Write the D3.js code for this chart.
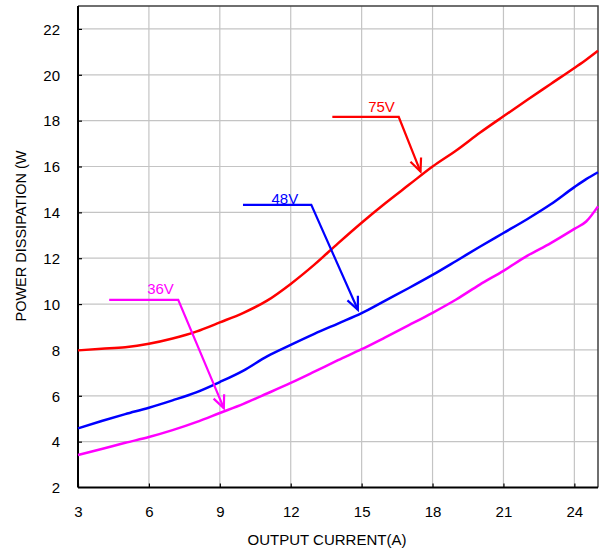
<!DOCTYPE html>
<html>
<head>
<meta charset="utf-8">
<script src="https://cdn.jsdelivr.net/npm/d3@7/dist/d3.min.js"></script>
<style>
  html, body { margin: 0; padding: 0; background: #fff; }
  svg { display: block; }
  text { font-family: "Liberation Sans", Arial, sans-serif; }
</style>
</head>
<body>
<svg id="chart" width="604" height="553"></svg>
<script>
// ---- data ----
const current = [3, 4, 5, 6, 7, 8, 9, 10, 11, 12, 13, 14, 15, 16, 17, 18, 19, 20, 21, 22, 23, 24, 24.5, 25];
const v75 = [7.98, 8.05, 8.12, 8.27, 8.5, 8.8, 9.2, 9.62, 10.15, 10.88, 11.72, 12.65, 13.55, 14.4, 15.2, 16.0, 16.7, 17.47, 18.19, 18.9, 19.6, 20.3, 20.66, 21.05];
const v48 = [4.58, 4.9, 5.2, 5.48, 5.8, 6.15, 6.6, 7.1, 7.72, 8.22, 8.7, 9.15, 9.6, 10.15, 10.7, 11.27, 11.88, 12.5, 13.1, 13.7, 14.35, 15.1, 15.45, 15.75];
const v36 = [3.42, 3.68, 3.95, 4.2, 4.5, 4.85, 5.25, 5.65, 6.1, 6.56, 7.05, 7.55, 8.03, 8.55, 9.08, 9.62, 10.2, 10.85, 11.45, 12.1, 12.66, 13.28, 13.6, 14.26];
const xTicks = [3, 6, 9, 12, 15, 18, 21, 24];
const yTicks = [2, 4, 6, 8, 10, 12, 14, 16, 18, 20, 22];
const seriesNames = ["75V", "48V", "36V"];
const seriesColors = ["#ff0000", "#0000ff", "#ff00ff"];
// annotation paths in data units: [start, corner, tip], label position
const annoPaths = [
  [[13.76, 18.16], [16.57, 18.16], [17.49, 15.78]],
  [[9.98, 14.33], [12.87, 14.33], [14.84, 9.75]],
  [[4.32, 10.18], [7.24, 10.18], [9.17, 5.46]]
];
const annoLabels = [[15.84, 18.36], [11.75, 14.35], [6.49, 10.45]];
const xTitle = "OUTPUT CURRENT(A)";
const yTitle = "POWER DISSIPATION (W";

// ---- layout ----
const L = 78, R = 598, T = 6, B = 487.5;
const svg = d3.select("#chart");
const x = d3.scaleLinear().domain([3, 25]).range([L, R]);
const y = d3.scaleLinear().domain([2, 23]).range([B, T]);

// gridlines
const grid = svg.append("g");
grid.selectAll("line.v").data(xTicks.slice(1)).join("line")
  .attr("x1", d => x(d)).attr("x2", d => x(d)).attr("y1", T).attr("y2", B)
  .attr("stroke", "#c4c4c4").attr("stroke-width", 1.2);
grid.selectAll("line.h").data(yTicks.slice(1)).join("line")
  .attr("x1", L).attr("x2", R).attr("y1", d => y(d)).attr("y2", d => y(d))
  .attr("stroke", "#c4c4c4").attr("stroke-width", 1.2);

// top/right border
svg.append("path")
  .attr("d", `M${L},${T}H${R}V${B}`)
  .attr("fill", "none").attr("stroke", "#404040").attr("stroke-width", 1.5);

// axes
const xAxis = d3.axisBottom(x).tickValues(xTicks).tickSize(-4).tickPadding(0).tickFormat(d3.format("d"));
const gx = svg.append("g").attr("transform", `translate(0,${B})`).call(xAxis);
gx.select(".domain").attr("stroke", "#000").attr("stroke-width", 2).attr("d", `M${L},0H${R}`);
gx.selectAll(".tick line").attr("stroke", "#000").attr("stroke-width", 1.2);
gx.selectAll(".tick text").attr("font-size", 15).attr("fill", "#000")
  .attr("y", 29).attr("dy", 0).attr("font-family", "Liberation Sans, Arial, sans-serif");

const yAxis = d3.axisLeft(y).tickValues(yTicks).tickSize(-4).tickPadding(0).tickFormat(d3.format("d"));
const gy = svg.append("g").attr("transform", `translate(${L},0)`).call(yAxis);
gy.select(".domain").attr("stroke", "#000").attr("stroke-width", 2).attr("d", `M0,${T}V${B}`);
gy.selectAll(".tick line").attr("stroke", "#000").attr("stroke-width", 1.2);
gy.selectAll(".tick text").attr("font-size", 15).attr("fill", "#000")
  .attr("x", -18).attr("dy", "0.35em").attr("font-family", "Liberation Sans, Arial, sans-serif");
gy.selectAll(".tick").filter(d => d === 2).select("line").remove();

// titles
svg.append("text").attr("x", 327).attr("y", 545).attr("text-anchor", "middle")
  .attr("font-size", 15).attr("fill", "#000").text(xTitle);
svg.append("text").attr("transform", "translate(26,236) rotate(-90)").attr("text-anchor", "middle")
  .attr("font-size", 14.5).attr("fill", "#000").text(yTitle);

// curves
const allSeries = [v75, v48, v36];
const line = d3.line().x(d => x(d[0])).y(d => y(d[1])).curve(d3.curveMonotoneX);
const curves = svg.append("g");
allSeries.forEach((s, i) => {
  curves.append("path")
    .attr("d", line(current.map((c, j) => [c, s[j]])))
    .attr("fill", "none").attr("stroke", seriesColors[i]).attr("stroke-width", 2.5)
    .attr("stroke-linejoin", "round");
});

// annotations
const ann = svg.append("g");
annoPaths.forEach((p, i) => {
  const pts = p.map(d => [x(d[0]), y(d[1])]);
  ann.append("path").attr("d", d3.line()(pts))
    .attr("fill", "none").attr("stroke", seriesColors[i]).attr("stroke-width", 2.2);
  const [cx, cy] = pts[1], [tx, ty] = pts[2];
  const ang = Math.atan2(ty - cy, tx - cx);
  const len = 14, spread = 0.42;
  const w1 = [tx - len * Math.cos(ang - spread), ty - len * Math.sin(ang - spread)];
  const w2 = [tx - len * Math.cos(ang + spread), ty - len * Math.sin(ang + spread)];
  ann.append("path").attr("d", d3.line()([w1, [tx, ty], w2]))
    .attr("fill", "none").attr("stroke", seriesColors[i]).attr("stroke-width", 2.2);
  ann.append("text").attr("x", x(annoLabels[i][0])).attr("y", y(annoLabels[i][1]))
    .attr("text-anchor", "middle").attr("font-size", 15).attr("fill", seriesColors[i])
    .attr("font-family", "DejaVu Sans, sans-serif")
    .text(seriesNames[i]);
});
</script>
</body>
</html>
